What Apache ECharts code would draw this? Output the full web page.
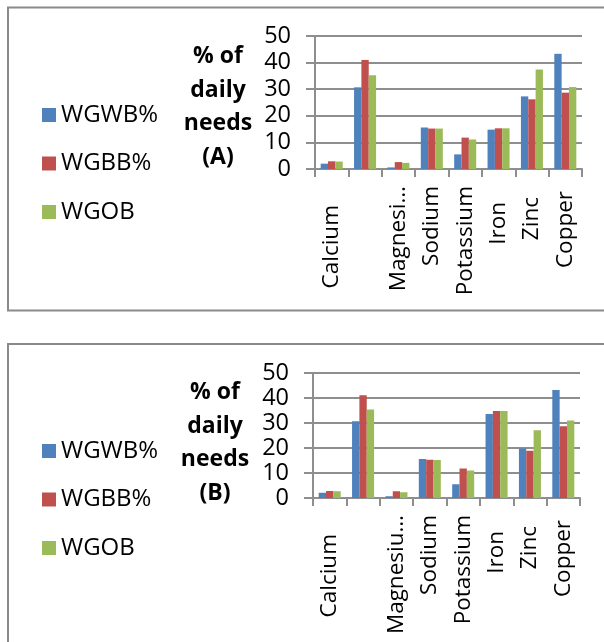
<!DOCTYPE html>
<html>
<head>
<meta charset="utf-8">
<script src="https://cdn.jsdelivr.net/npm/echarts@6/dist/echarts.min.js"></script>
<style>html,body{margin:0;padding:0;background:#fff}#c{width:604px;height:642px}</style>
</head>
<body>
<div id="c"></div>
<script>
var categoriesA = ['Calcium', '', 'Magnesi\u2026', 'Sodium', 'Potassium', 'Iron', 'Zinc', 'Copper'];
var categoriesB = ['Calcium', '', 'Magnesiu\u2026', 'Sodium', 'Potassium', 'Iron', 'Zinc', 'Copper'];
var seriesNames = ['WGWB%', 'WGBB%', 'WGOB'];
var wgwbA = [2.0, 30.7, 0.6, 15.6, 5.5, 14.8, 27.3, 43.3];
var wgbbA = [2.9, 41.0, 2.6, 15.2, 11.8, 15.3, 26.2, 28.7];
var wgobA = [2.8, 35.2, 2.3, 15.2, 11.1, 15.3, 37.4, 30.8];
var wgwbB = [2.1, 30.7, 0.7, 15.6, 5.5, 33.6, 19.8, 43.2];
var wgbbB = [2.8, 41.1, 2.7, 15.3, 11.8, 34.8, 18.9, 28.7];
var wgobB = [2.7, 35.4, 2.3, 15.2, 11.0, 34.8, 27.1, 31.0];
var yTicks = [0, 10, 20, 30, 40, 50];
var titleA = '% of\ndaily\nneeds\n(A)';
var titleB = '% of\ndaily\nneeds\n(B)';

// styling (label offsets mimic the original's staggered rotated labels)
var labelShift = [19, 0, 0, 0, 0, 16, 11, 5];
var colors = ['#4F81BD', '#C0504D', '#9BBB59'];
var FONT = '"Open Sans", "Noto Sans", sans-serif';
var gridColor = '#8e8e8e';

function catData(cats) {
  return cats.map(function (c, i) {
    return { value: c, textStyle: { padding: [0, labelShift[i], 0, 0] } };
  });
}
function xAxis(gi, cats) {
  return {
    type: 'category', gridIndex: gi, data: catData(cats),
    axisLine: { show: true, lineStyle: { color: gridColor, width: 2 } },
    axisTick: { show: true, length: 8, lineStyle: { color: gridColor, width: 2 } },
    axisLabel: { rotate: 90, margin: 17, interval: 0, color: '#000', fontSize: 22.5, fontFamily: FONT },
    splitLine: { show: false }
  };
}
function yAxis(gi) {
  return {
    type: 'value', gridIndex: gi, min: yTicks[0], max: yTicks[yTicks.length - 1], interval: 10,
    axisLine: { show: true, lineStyle: { color: gridColor, width: 2 } },
    axisTick: { show: true, length: 9, lineStyle: { color: gridColor, width: 2 } },
    axisLabel: { margin: 24, color: '#000', fontSize: 23.5, fontFamily: FONT },
    splitLine: { show: true, lineStyle: { color: gridColor, width: 2 } }
  };
}
function bars(gi, arrs) {
  return arrs.map(function (d, i) {
    return {
      name: seriesNames[i], type: 'bar', xAxisIndex: gi, yAxisIndex: gi, data: d,
      barGap: '0%', barCategoryGap: '34%',
      itemStyle: { color: colors[i] }, animation: false
    };
  });
}
function legend(top) {
  return {
    orient: 'vertical', left: 37, top: top, itemWidth: 14, itemHeight: 14, itemGap: 22.5,
    icon: 'rect', selectedMode: false, data: seriesNames,
    textStyle: { color: '#000', fontSize: 24, fontFamily: FONT, lineHeight: 26 }
  };
}
function title(text, x, y) {
  return {
    type: 'text', x: x, y: y,
    style: {
      text: text, fill: '#000', font: 'bold 23px ' + FONT, fontSize: 23, fontWeight: 'bold', fontFamily: FONT,
      lineHeight: 33.5, align: 'center', textAlign: 'center', verticalAlign: 'middle', textVerticalAlign: 'middle'
    }
  };
}

var chart = echarts.init(document.getElementById('c'), null, { renderer: 'canvas' });
chart.setOption({
  backgroundColor: '#fff',
  animation: false,
  grid: [
    { left: 315, top: 36, width: 267, height: 133 },
    { left: 313, top: 373, width: 267, height: 125 }
  ],
  xAxis: [xAxis(0, categoriesA), xAxis(1, categoriesB)],
  yAxis: [yAxis(0), yAxis(1)],
  legend: [legend(97), legend(433)],
  series: bars(0, [wgwbA, wgbbA, wgobA]).concat(bars(1, [wgwbB, wgbbB, wgobB])),
  graphic: [
    { type: 'rect', shape: { x: 8, y: 7.5, width: 700, height: 303 }, style: { fill: 'none', stroke: '#8a8a8a', lineWidth: 2 } },
    { type: 'rect', shape: { x: 8, y: 344, width: 700, height: 400 }, style: { fill: 'none', stroke: '#8a8a8a', lineWidth: 2 } },
    title(titleA, 218, 107),
    title(titleB, 215, 443)
  ]
});
</script>
</body>
</html>
